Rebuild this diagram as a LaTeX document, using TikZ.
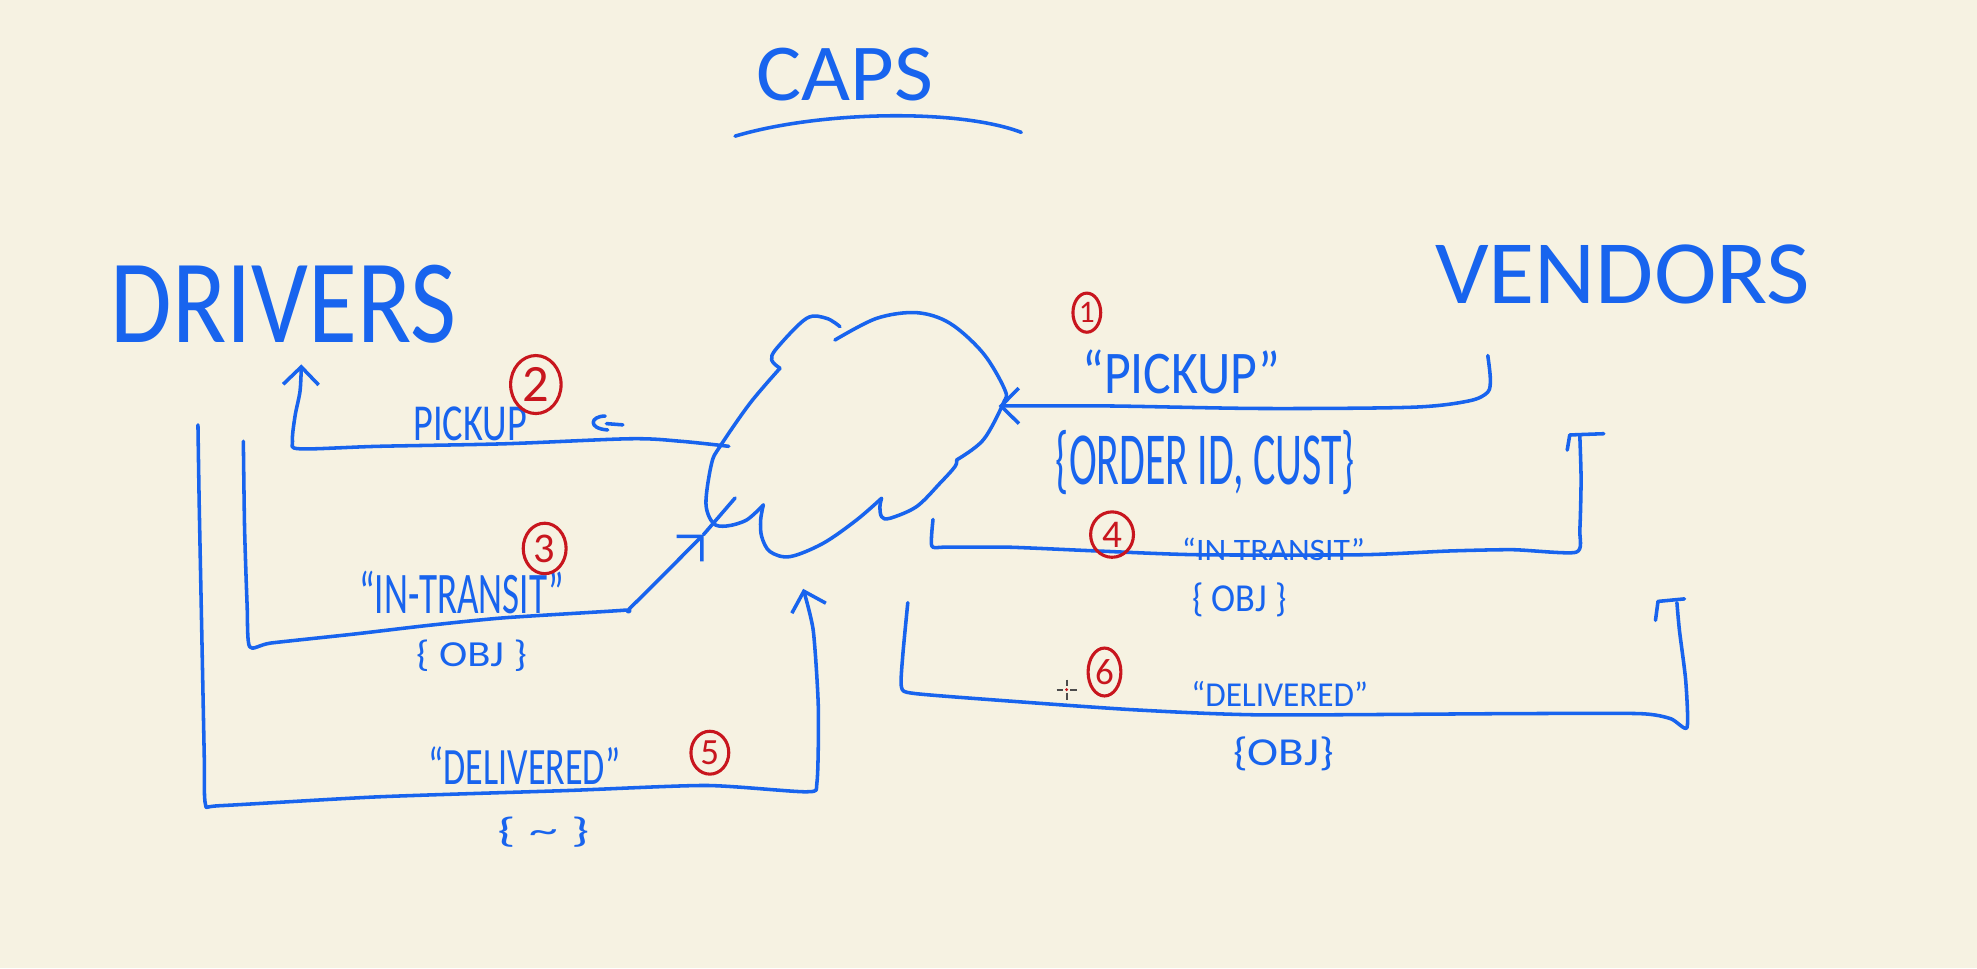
\documentclass[tikz,border=0pt]{standalone}
\usepackage{fontspec}
\setmainfont{Carlito}
\usetikzlibrary{arrows.meta,shapes.geometric}
\definecolor{paper}{RGB}{246,242,226}
\definecolor{ink}{RGB}{24,100,238}
\definecolor{redink}{RGB}{200,22,30}
\newcommand{\fitbox}[3]{\resizebox*{#1}{#2}{#3}}
\newcommand{\digitbox}[2]{\resizebox*{!}{#1}{#2}}
\begin{document}
\begin{tikzpicture}[x=0.01cm,y=-0.01cm,
  conn/.style={draw=ink,line width=0.8pt,line cap=round,line join=round},
  arr/.style={-{Straight Barb[length=4pt,width=8pt,line width=0.8pt]}},
  lbl/.style={text=ink,inner sep=0pt,outer sep=0pt},
  numc/.style={ellipse,draw=redink,line width=0.7pt,text=redink,inner sep=0pt}]
\fill[paper] (0,0) rectangle (1568,768);
\useasboundingbox (0,0) rectangle (1568,768);

% titles
\node[lbl] (caps) at (670,59) {\fitbox{1.40cm}{0.42cm}{CAPS}};
\coordinate (ulL) at (583,108);
\coordinate (ulR) at (810,105);
\draw[conn] (ulL) .. controls (650,88) and (760,86) .. (ulR);

\node[lbl] (drivers) at (225,241) {\fitbox{2.74cm}{0.62cm}{DRIVERS}};
\node[lbl] (vendors) at (1287,218) {\fitbox{2.97cm}{0.47cm}{VENDORS}};

% cloud (CAPS service)
\coordinate (cloud) at (680,345);
\draw[conn] plot[smooth,tension=0.55] coordinates {(662.2,269.7) (695.3,252.5) (727.0,248.0) (753.4,256.4) (779.8,280.2) (797.0,309.3) (795.7,319.9) (779.8,349.0) (758.7,364.8)};
\draw[conn] plot[smooth,tension=0.55] coordinates {(758.7,364.8) (757.4,370.1) (745.5,383.3) (727.0,401.8) (705.8,411.1) (699.2,409.8) (697.9,401.8) (699.2,395.2)};
\draw[conn] plot[smooth,tension=0.55] coordinates {(699.2,395.2) (679.4,412.4) (652.9,430.9) (626.5,441.5) (610.7,437.5) (604.1,425.6) (603.3,412.4) (605.4,400.5)};
\draw[conn] plot[smooth,tension=0.55] coordinates {(605.4,400.5) (592.2,412.4) (576.3,417.2) (565.7,415.0) (559.9,399.2) (564.4,367.5) (571.0,354.2) (594.8,319.9) (618.6,292.1)};
\draw[conn] plot[smooth,tension=0.55] coordinates {(618.6,292.1) (612.0,285.5) (616.0,276.3) (639.7,252.5) (655.6,252.5) (666.2,259.1)};

% named ends
\coordinate (v1) at (1180,282);
\coordinate (cR) at (792,322);
\coordinate (cL) at (578,354);
\coordinate (d2) at (239,289);
\coordinate (d3) at (193,350);
\coordinate (m3) at (558,424);
\coordinate (c3) at (583,395);
\coordinate (d5) at (157,337);
\coordinate (c5) at (637,467);
\coordinate (c4) at (740,412);
\coordinate (v4) at (1253,346);
\coordinate (c6) at (720,478);
\coordinate (v6) at (1330,478);

% 1: vendors -> caps
\draw[conn,arr] plot[smooth,tension=0.5] coordinates {(v1) (1182,300) (1180,311) (1165,318) (1120,323) (1000,324) (880,322) (cR)};
% 2: caps -> drivers
\draw[conn,arr] plot[smooth,tension=0.5] coordinates {(cL) (540,350) (500,348) (400,352) (300,354) (238,356) (232,350) (234,330) (238,310) (d2)};
% 3: drivers -> caps
\draw[conn,arr] plot[smooth,tension=0.4] coordinates {(d3) (194,420) (196,480) (198,513) (215,510) (280,503) (340,496) (400,490) (495,484) (500,482) (m3)};
\draw[conn] (m3) -- (c3);
% 5: drivers -> caps
\draw[conn,arr] plot[smooth,tension=0.4] coordinates {(d5) (158,400) (160,500) (162,600) (163,638) (175,639) (300,632) (450,627) (560,623) (640,628) (648,620) (649,560) (645,500) (c5)};
% 4: caps -> vendors
\draw[conn] plot[smooth,tension=0.4] coordinates {(c4) (739,433) (750,434) (800,434) (870,437) (950,440) (1080,440) (1150,437) (1200,436) (1250,438) (1253,420) (1254,380) (v4)};
\draw[conn] (1243,357) -- (1245,345) -- (1272,344);
% 6: caps -> vendors
\draw[conn] plot[smooth,tension=0.4] coordinates {(c6) (716,520) (715,545) (725,550) (800,556) (900,563) (1000,567) (1200,566) (1300,566) (1325,570) (1338,577) (1337,540) (1332,500) (v6)};
\draw[conn] (1313,492) -- (1315,477) -- (1336,475);

% small mark next to PICKUP (2)
\draw[conn] (480,330) .. controls (468,330) and (466,340) .. (482,341);
\draw[conn] (481,336) -- (494,337);

% labels
\node[lbl] (l1a) at (937,295) {\fitbox{1.57cm}{0.35cm}{``PICKUP''}};
\node[lbl] (l1b) at (956,367) {\fitbox{2.37cm}{0.51cm}{\{ORDER ID, CUST\}}};
\node[lbl] (l2) at (373,336) {\fitbox{0.90cm}{0.27cm}{PICKUP}};
\node[lbl] (l3a) at (366,470) {\fitbox{1.62cm}{0.34cm}{``IN-TRANSIT''}};
\node[lbl] (l3b) at (374,520) {\fitbox{0.88cm}{0.25cm}{\{ OBJ \}}};
\node[lbl] (l5a) at (416,607) {\fitbox{1.52cm}{0.30cm}{``DELIVERED''}};
\node[lbl] (l5b) at (431,660) {\fitbox{0.73cm}{0.24cm}{\{ \textasciitilde\ \}}};
\node[lbl] (l4a) at (1010,436) {\fitbox{1.45cm}{0.18cm}{``IN TRANSIT''}};
\node[lbl] (l4b) at (983,476) {\fitbox{0.75cm}{0.27cm}{\{ OBJ \}}};
\node[lbl] (l6a) at (1015,550) {\fitbox{1.40cm}{0.20cm}{``DELIVERED''}};
\node[lbl] (l6b) at (1018,598) {\fitbox{0.80cm}{0.27cm}{\{OBJ\}}};

% step numbers
\node[numc,minimum width=0.22cm,minimum height=0.31cm] (n1) at (862,248) {\digitbox{0.16cm}{1}};
\node[numc,minimum width=0.40cm,minimum height=0.46cm] (n2) at (425,305) {\digitbox{0.27cm}{2}};
\node[numc,minimum width=0.34cm,minimum height=0.40cm] (n3) at (432,435) {\digitbox{0.22cm}{3}};
\node[numc,minimum width=0.34cm,minimum height=0.36cm] (n4) at (882,424) {\digitbox{0.20cm}{4}};
\node[numc,minimum width=0.30cm,minimum height=0.34cm] (n5) at (563,597) {\digitbox{0.19cm}{5}};
\node[numc,minimum width=0.26cm,minimum height=0.38cm] (n6) at (876,533) {\digitbox{0.20cm}{6}};

% cursor
\coordinate (cur) at (846,547);
\draw[black!70,line width=0.5pt] (838,547) -- (843,547) (849,547) -- (854,547) (846,539) -- (846,544) (846,550) -- (846,555);
\fill[redink] (cur) circle (1.3);
\end{tikzpicture}
\end{document}
